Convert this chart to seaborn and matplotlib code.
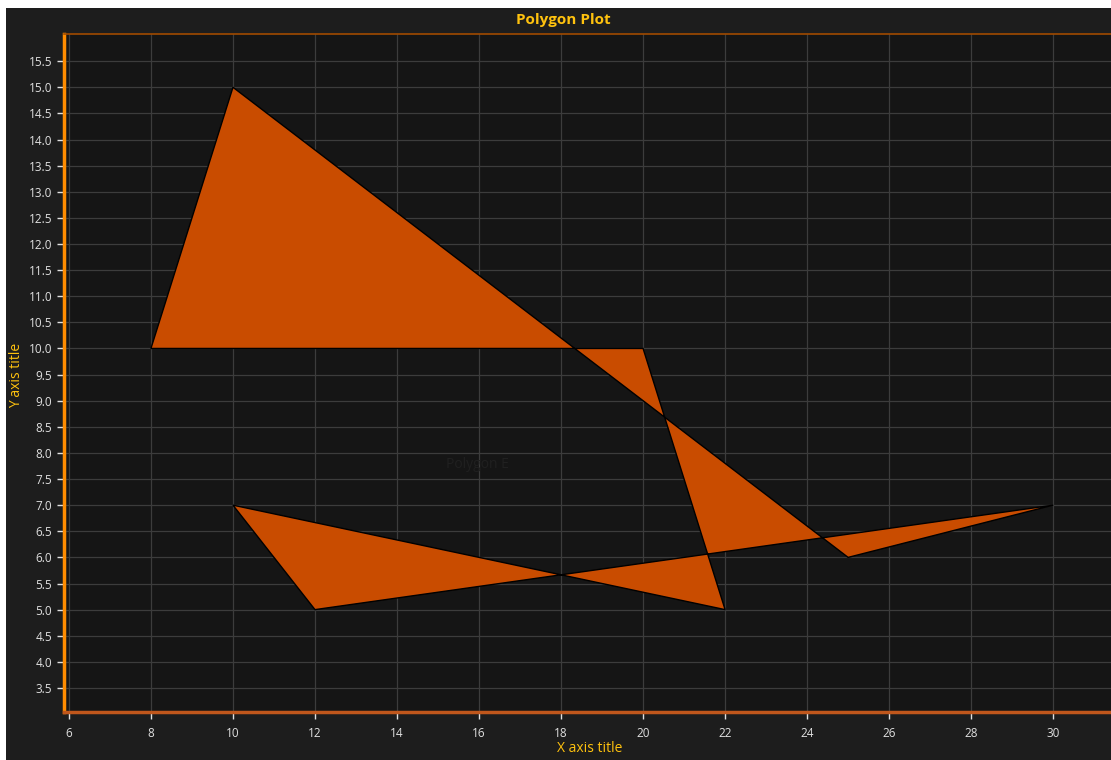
import matplotlib
matplotlib.use("Agg")
import matplotlib.pyplot as plt
import seaborn as sns
from matplotlib.patches import Rectangle

# polygon vertices, in drawing order
poly_x = [8, 10, 25, 30, 12, 10, 22, 20]
poly_y = [10, 15, 6, 7, 5, 7, 5, 10]
poly_name = "Polygon E"
label_pos = (15.95, 7.77)

x_ticks = [6, 8, 10, 12, 14, 16, 18, 20, 22, 24, 26, 28, 30]
y_ticks = [3.5, 4.0, 4.5, 5.0, 5.5, 6.0, 6.5, 7.0, 7.5, 8.0, 8.5, 9.0, 9.5,
           10.0, 10.5, 11.0, 11.5, 12.0, 12.5, 13.0, 13.5, 14.0, 14.5, 15.0, 15.5]

sns.set_style("dark")
plt.rcParams['font.family'] = ['Open Sans', 'DejaVu Sans']

fig = plt.figure(figsize=(11.11, 7.6), dpi=100, facecolor="white")
# dark chart panel (leaves a thin white strip on top and left, like the source)
fig.patches.append(Rectangle((6 / 1111, 0), 1 - 6 / 1111, 1 - 8 / 760,
                             transform=fig.transFigure, facecolor="#1d1d1d",
                             edgecolor="none", zorder=-10))

ax = fig.add_axes([64 / 1111, (760 - 712) / 760, 1 - 64 / 1111, (712 - 34) / 760])
ax.set_zorder(5)
ax.set_facecolor("#151515")

ax.fill(poly_x, poly_y, facecolor="#c94c00", edgecolor="black", linewidth=1.0, zorder=3)
ax.text(label_pos[0], label_pos[1], poly_name, color="#202020", fontsize=10,
        ha="center", va="center", zorder=4)

ax.set_xlim(5.88, 31.41)
ax.set_ylim(3.04, 16.02)
ax.set_xticks(x_ticks)
ax.set_yticks(y_ticks)
ax.set_yticklabels([f"{v:.1f}" for v in y_ticks])
ax.grid(True, color="#3c3c3c", linewidth=0.9, zorder=1)
ax.set_axisbelow(True)

ax.tick_params(axis="both", colors="#e0e0e0", labelsize=8.5, length=5, width=1,
               direction="out", bottom=True, left=True)
ax.tick_params(axis="x", pad=6)

ax.spines["right"].set_visible(False)
ax.spines["left"].set_color("#ff8c00")
ax.spines["left"].set_linewidth(2.5)
ax.spines["bottom"].set_color("#c0571c")
ax.spines["bottom"].set_linewidth(2.5)
ax.spines["top"].set_color("#a04a00")
ax.spines["top"].set_linewidth(1.2)

fig.text(563 / 1111, 1 - 20 / 760, "Polygon Plot", color="#ffc20e",
         fontsize=11, fontweight="bold", ha="center", va="center")
fig.text(590 / 1111, 1 - 749 / 760, "X axis title", color="#ffc20e",
         fontsize=10, ha="center", va="center")
fig.text(17 / 1111, 1 - 375 / 760, "Y axis title", color="#ffc20e",
         fontsize=10, ha="center", va="center", rotation=90)

fig.savefig("out.png", dpi=100, facecolor=fig.get_facecolor())
